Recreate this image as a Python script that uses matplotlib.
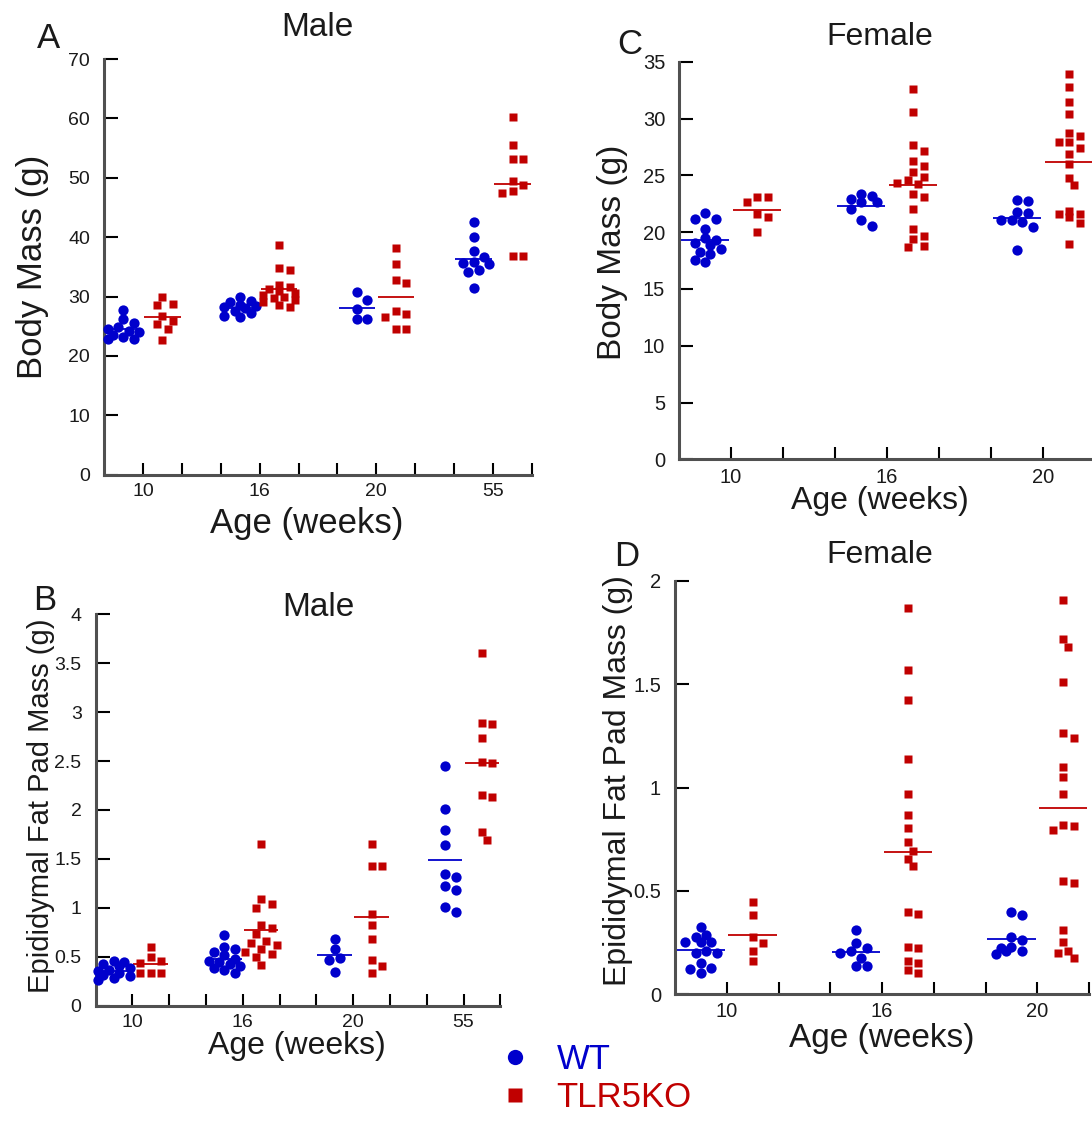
import numpy as np
import matplotlib
matplotlib.use("Agg")
import matplotlib.pyplot as plt
from matplotlib.lines import Line2D
from matplotlib.ticker import FuncFormatter

plt.rcParams['font.family'] = ['Liberation Sans', 'DejaVu Sans']

# ---------------- data ----------------
ages_male = ['10', '16', '20', '55']
ages_female = ['10', '16', '20']

male_mass_wt = [
    [27.8, 26.2, 25.6, 24.8, 24.6, 24.2, 24.0, 23.6, 23.2, 22.8, 22.8],
    [30.0, 29.3, 29.0, 28.6, 28.4, 28.2, 28.0, 27.6, 27.2, 26.8, 26.5],
    [30.7, 29.5, 27.9, 26.2, 26.2],
    [42.6, 40.0, 37.7, 36.7, 35.9, 35.6, 35.4, 34.5, 34.2, 31.4]]
male_mass_ko = [
    [30.0, 28.8, 28.6, 26.8, 25.9, 25.4, 24.5, 22.6],
    [38.7, 34.8, 34.5, 32.0, 31.6, 31.3, 31.0, 30.6, 30.3, 30.0, 29.7, 29.4, 29.0, 28.6, 28.2],
    [38.2, 35.4, 32.8, 32.3, 27.6, 27.1, 26.6, 24.5, 24.5],
    [60.3, 55.6, 53.1, 53.1, 49.4, 48.8, 47.8, 47.4, 36.9, 36.8]]

male_fat_wt = [
    [0.46, 0.44, 0.42, 0.40, 0.38, 0.36, 0.35, 0.33, 0.31, 0.30, 0.28, 0.26],
    [0.72, 0.60, 0.58, 0.55, 0.52, 0.48, 0.46, 0.44, 0.42, 0.40, 0.38, 0.36, 0.33],
    [0.68, 0.58, 0.49, 0.47, 0.34],
    [2.45, 2.01, 1.79, 1.64, 1.34, 1.31, 1.22, 1.18, 1.01, 0.96]]
male_fat_ko = [
    [0.60, 0.50, 0.46, 0.43, 0.33, 0.33, 0.33],
    [1.65, 1.09, 1.04, 1.00, 0.82, 0.79, 0.73, 0.66, 0.64, 0.62, 0.58, 0.55, 0.53, 0.50, 0.41],
    [1.65, 1.43, 1.43, 0.94, 0.82, 0.68, 0.47, 0.40, 0.33],
    [3.60, 2.89, 2.88, 2.74, 2.49, 2.48, 2.15, 2.13, 1.77, 1.69]]

female_mass_wt = [
    [21.66, 21.16, 21.16, 20.28, 19.46, 19.31, 19.02, 18.87, 18.52, 18.28, 18.05, 17.55, 17.35],
    [23.34, 23.22, 22.92, 22.63, 22.63, 22.04, 21.07, 20.57],
    [22.83, 22.75, 21.75, 21.66, 21.07, 21.07, 20.87, 20.48, 18.43]]
female_mass_ko = [
    [23.13, 23.13, 22.69, 21.6, 21.37, 19.99],
    [32.6, 30.6, 27.68, 27.15, 26.27, 25.86, 25.27, 24.89, 24.6, 24.3, 24.24, 23.34,
     23.13, 22.04, 20.28, 19.67, 19.4, 18.79, 18.67],
    [33.9, 32.81, 31.49, 30.4, 28.76, 28.47, 27.97, 27.97, 27.38, 26.88, 26.0, 24.8,
     24.15, 21.9, 21.57, 21.57, 21.31, 20.78, 18.96]]

female_fat_wt = [
    [0.326, 0.287, 0.278, 0.251, 0.25, 0.25, 0.207, 0.198, 0.198, 0.151, 0.127, 0.122, 0.101],
    [0.31, 0.247, 0.223, 0.207, 0.199, 0.175, 0.138, 0.138],
    [0.399, 0.384, 0.278, 0.262, 0.227, 0.222, 0.21, 0.21, 0.194]]
female_fat_ko = [
    [0.447, 0.384, 0.278, 0.247, 0.209, 0.159],
    [1.869, 1.571, 1.423, 1.140, 0.967, 0.867, 0.803, 0.734, 0.693, 0.653, 0.618, 0.399,
     0.387, 0.227, 0.222, 0.162, 0.149, 0.114, 0.101],
    [1.909, 1.721, 1.681, 1.512, 1.265, 1.238, 1.101, 1.051, 0.967, 0.819, 0.814, 0.793,
     0.545, 0.536, 0.31, 0.251, 0.21, 0.199, 0.173]]

# ---------------- style ----------------
BLUE = '#0000CC'
RED = '#C00000'
TXT = '#1a1a1a'
W, H = 1092, 1121
fig = plt.figure(figsize=(W / 100, H / 100), dpi=100)


def px_axes(left, top, right, bottom):
    return fig.add_axes([left / W, 1 - bottom / H, (right - left) / W, (bottom - top) / H])


def swarm(values, px_x, px_y, d=10.5, max_cols=1.5):
    """Column-scatter layout (pixel space), limited width; overlaps allowed when crowded."""
    n = len(values)
    order = sorted(range(n), key=lambda i: -values[i])
    cands = [0.0]
    k = 1
    while k * d / 2 <= max_cols * d + 1e-9:
        cands += [k * d / 2, -k * d / 2]
        k += 1
    placed = []
    offs = [0.0] * n
    thr = 0.85 * d
    for i in order:
        y = values[i] * px_y
        best, best_md = None, -1
        for c in cands:
            md = min([np.hypot(c - px, y - py) for px, py in placed] or [1e9])
            if md >= thr:
                best = c
                break
            if md > best_md + 0.5:
                best_md, best = md, c
        placed.append((best, y))
        offs[i] = best / px_x
    return offs


def fmt(v, p):
    return ('%g' % v)


def panel(ax, wt, ko, labels, xmax, ymax, ystep, ypx, xpx, tick_fs):
    ax.set_xlim(0, xmax)
    ax.set_ylim(0, ymax)
    px_x = xpx / xmax
    px_y = ypx / ymax
    for g in range(len(labels)):
        c = 1 + 3 * g
        for vals, col, mk, ms, pos in ((wt[g], BLUE, 'o', 7.4, c - 0.5),
                                      (ko[g], RED, 's', 6.2, c + 0.5)):
            offs = swarm(vals, px_x, px_y)
            ax.plot([pos + o for o in offs], vals, ls='none', marker=mk, ms=ms,
                    color=col, mec='none', clip_on=False, zorder=3)
            ax.hlines(np.mean(vals), pos - 0.47, pos + 0.47, color=col, lw=1.3,
                      zorder=2, clip_on=False)
    ax.set_xticks(np.arange(1, xmax + 0.5, 1))
    ax.set_xticklabels([labels[(t - 1) // 3] if (t - 1) % 3 == 0 else ''
                        for t in range(1, int(xmax) + 1)])
    ax.set_yticks(np.arange(0, ymax + ystep / 2, ystep))
    ax.yaxis.set_major_formatter(FuncFormatter(fmt))
    for s in ('top', 'right'):
        ax.spines[s].set_visible(False)
    for s in ('left', 'bottom'):
        ax.spines[s].set_linewidth(2.2)
        ax.spines[s].set_color('#505050')
    ax.tick_params(axis='y', direction='in', length=10, width=1.5, color='black',
                   labelsize=tick_fs, pad=10, labelcolor=TXT)
    ax.tick_params(axis='x', direction='in', length=8.5, width=1.5, color='black',
                   labelsize=tick_fs, pad=6, labelcolor=TXT)
    ax.patch.set_alpha(0)


axA = px_axes(104, 59, 532, 474.7)
panel(axA, male_mass_wt, male_mass_ko, ages_male, 11, 70, 10, 415.7, 428, 14)
axB = px_axes(95.5, 614.3, 500.3, 1005.5)
panel(axB, male_fat_wt, male_fat_ko, ages_male, 11, 4, 0.5, 391.2, 404.8, 14)
axC = px_axes(679, 61.7, 1095, 459.4)
panel(axC, female_mass_wt, female_mass_ko, ages_female, 8, 35, 5, 397.7, 416, 14.5)
axD = px_axes(675, 581, 1089, 994)
panel(axD, female_fat_wt, female_fat_ko, ages_female, 8, 2, 0.5, 413, 414, 14.5)


def ftext(x, y, s, fs, rot=0, color=TXT):
    fig.text(x / W, 1 - y / H, s, fontsize=fs, rotation=rot, ha='center', va='center',
             color=color)


ftext(48, 38, 'A', 25)
ftext(317, 27, 'Male', 24)
ftext(45, 600, 'B', 25)
ftext(318, 607, 'Male', 24)
ftext(630, 45, 'C', 25)
ftext(880, 37, 'Female', 23)
ftext(627, 557, 'D', 25)
ftext(880, 555, 'Female', 23)

ftext(33, 267, 'Body Mass (g)', 25, 90)
ftext(41, 806, 'Epididymal Fat Pad Mass (g)', 21, 90)
ftext(612, 252, 'Body Mass (g)', 24, 90)
ftext(618, 781, 'Epididymal Fat Pad Mass (g)', 23, 90)

ftext(307, 524, 'Age (weeks)', 25)
ftext(297, 1046, 'Age (weeks)', 23)
ftext(880, 501, 'Age (weeks)', 23)
ftext(882, 1039, 'Age (weeks)', 24)

handles = [Line2D([], [], ls='none', marker='o', ms=11, color=BLUE, mec='none'),
           Line2D([], [], ls='none', marker='s', ms=9.5, color=RED, mec='none')]
fig.legend(handles, ['WT', 'TLR5KO'], loc='upper left',
           bbox_to_anchor=(501 / W, 1 - 1043 / H), frameon=False, fontsize=25,
           labelcolor=[BLUE, RED], handlelength=0.8, handletextpad=0.8,
           labelspacing=0.15, borderpad=0, borderaxespad=0)

fig.savefig('out.png', dpi=100)
